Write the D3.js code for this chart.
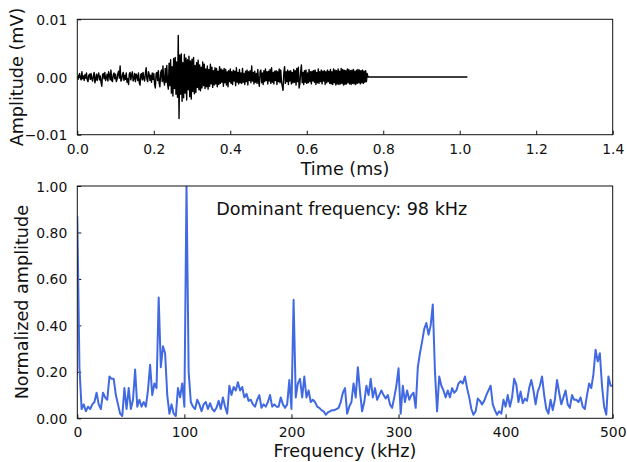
<!DOCTYPE html>
<html>
<head>
<meta charset="utf-8">
<script src="https://cdn.jsdelivr.net/npm/d3@7"></script>
<style>
  html, body { margin: 0; padding: 0; background: #fff; }
  svg { display: block; }
  text { font-family: "DejaVu Sans", sans-serif; fill: #111; }
</style>
</head>
<body>
<svg id="chart" width="627" height="462"></svg>
<script>
// ---------------- DATA ----------------
// Top panel: time-domain signal (mV), sampled every signalDt ms from signalT0
const signalT0 = 0;
const signalDt = 0.002;
const signalValues = [
  0.0001,-0.0004,0.0003,0.0006,-0.0002,-0.0005,0.0009,-0.0003,0.0002,-0.0006,
  0.0004,-0.0002,0.0007,-0.0005,-0.0008,0.0003,0.0005,-0.0004,0.0006,-0.0003,
  -0.0007,0.0002,0.0008,-0.0010,-0.0004,0.0005,-0.0006,0.0003,0.0007,-0.0005,
  0.0002,-0.0009,-0.0016,0.0004,0.0006,-0.0003,0.0008,-0.0006,-0.0002,0.0005,
  -0.0007,0.0009,0.0003,-0.0005,0.0012,-0.0006,-0.0008,0.0004,0.0007,-0.0003,
  0.0005,-0.0008,-0.0004,0.0006,0.0010,-0.0002,0.0019,-0.0007,-0.0005,0.0004,
  0.0008,-0.0006,0.0003,-0.0004,0.0007,-0.0009,-0.0003,-0.0013,0.0005,0.0008,
  -0.0005,0.0004,0.0009,-0.0007,-0.0003,0.0006,-0.0008,0.0005,0.0002,-0.0006,
  0.0007,-0.0010,-0.0014,0.0004,0.0006,-0.0005,0.0008,-0.0003,-0.0007,0.0006,
  0.0016,-0.0004,-0.0008,0.0009,0.0005,-0.0006,0.0003,-0.0009,0.0007,-0.0004,
  0.0006,-0.0012,-0.0019,0.0005,0.0008,-0.0006,0.0011,-0.0010,-0.0017,0.0007,
  0.0012,-0.0008,0.0019,-0.0006,-0.0014,0.0015,-0.0009,0.0020,-0.0012,-0.0021,
  0.0024,-0.0015,0.0030,-0.0028,0.0018,-0.0033,0.0032,-0.0020,0.0034,-0.0030,
  0.0026,-0.0035,0.0072,-0.0072,0.0038,-0.0030,0.0040,-0.0042,0.0025,-0.0036,
  0.0039,-0.0028,0.0033,-0.0040,0.0030,-0.0022,0.0036,-0.0034,0.0028,-0.0038,
  0.0031,-0.0025,0.0034,-0.0029,0.0020,-0.0027,0.0025,-0.0018,0.0029,-0.0022,
  0.0021,-0.0024,0.0017,-0.0019,0.0026,-0.0015,0.0022,-0.0020,0.0014,-0.0017,
  0.0019,-0.0021,0.0013,-0.0016,0.0022,-0.0012,0.0017,-0.0018,0.0011,-0.0014,
  0.0016,-0.0012,0.0015,-0.0017,0.0010,-0.0013,0.0018,-0.0011,0.0014,-0.0009,
  0.0012,-0.0016,0.0015,-0.0010,0.0013,-0.0014,0.0009,-0.0017,0.0011,-0.0008,
  0.0014,-0.0011,0.0009,-0.0013,0.0012,-0.0007,0.0010,-0.0015,0.0016,-0.0009,
  0.0008,-0.0012,0.0013,-0.0010,0.0007,-0.0011,0.0015,-0.0009,0.0006,-0.0013,
  0.0010,-0.0008,0.0012,-0.0014,0.0009,-0.0006,0.0011,-0.0010,0.0019,-0.0007,
  0.0008,-0.0012,0.0010,-0.0009,0.0006,-0.0011,0.0013,-0.0008,-0.0016,0.0009,
  0.0012,-0.0010,0.0007,-0.0013,0.0011,-0.0008,0.0014,-0.0006,0.0009,-0.0012,
  0.0010,-0.0007,0.0013,-0.0011,0.0016,-0.0009,0.0008,-0.0012,0.0010,-0.0006,
  0.0011,-0.0013,0.0009,-0.0008,0.0014,-0.0010,0.0012,-0.0009,-0.0016,-0.0023,
  0.0007,0.0018,-0.0011,0.0009,-0.0008,0.0012,-0.0013,0.0010,-0.0007,0.0011,
  -0.0012,0.0008,-0.0010,0.0013,-0.0009,0.0011,-0.0014,0.0015,-0.0008,0.0017,
  -0.0019,-0.0012,0.0009,0.0021,-0.0010,0.0008,-0.0013,0.0011,-0.0009,0.0012,
  -0.0011,0.0007,-0.0010,0.0013,-0.0008,0.0009,-0.0012,0.0010,-0.0007,0.0011,
  -0.0009,0.0012,-0.0013,0.0008,-0.0010,0.0014,-0.0011,0.0009,-0.0008,0.0012,
  -0.0012,0.0010,-0.0007,0.0011,-0.0013,0.0009,-0.0010,0.0012,-0.0008,0.0010,
  -0.0011,0.0013,-0.0012,0.0009,-0.0013,0.0014,-0.0010,0.0012,-0.0014,0.0011,
  -0.0012,0.0014,-0.0013,0.0010,-0.0012,0.0015,-0.0011,0.0013,-0.0014,0.0012,
  -0.0013,0.0011,-0.0012,0.0014,-0.0010,0.0013,-0.0012,0.0011,-0.0013,0.0012,
  -0.0011,0.0013,-0.0012,0.0010,-0.0013,0.0012,-0.0011,0.0013,-0.0010,0.0012,
  -0.0012,0.0011,-0.0010,0.0012,-0.0011,0.0010,-0.0009,0.0011,-0.0008,0.0006,
  0.0000
];
// zero-padded tail of the recorded window
const tailTimes = [0.76, 1.02];
const tailValues = [0, 0];

const timeTicks = [0.0, 0.2, 0.4, 0.6, 0.8, 1.0, 1.2, 1.4];
const ampTicks = [-0.01, 0.00, 0.01];

// Bottom panel: normalized FFT amplitude, one value every freqStep kHz from 0
const freqStep = 2;
const spectrumValues = [
  0.87,0.22,0.04,0.06,0.03,0.05,0.04,0.06,0.07,0.11,
  0.06,0.04,0.11,0.09,0.08,0.18,0.17,0.17,0.10,0.06,
  0.02,0.01,0.13,0.04,0.13,0.04,0.08,0.21,0.05,0.08,
  0.05,0.07,0.05,0.12,0.23,0.10,0.15,0.13,0.52,0.22,
  0.31,0.28,0.10,0.02,0.06,0.02,0.01,0.13,0.09,0.15,
  0.05,1.00,0.20,0.07,0.05,0.04,0.08,0.06,0.03,0.06,
  0.07,0.04,0.065,0.04,
  0.03,0.045,0.075,0.04,0.09,0.05,0.02,0.14,0.10,0.135,
  0.12,0.155,0.12,0.135,0.09,0.105,0.075,0.08,0.06,0.05,
  0.08,0.10,0.045,0.06,0.05,0.07,0.10,0.05,0.06,0.05,
  0.05,0.09,0.06,0.045,0.06,0.165,0.04,0.51,0.09,0.15,
  0.17,0.09,0.18,0.09,0.12,0.07,0.08,0.07,0.05,0.045,
  0.035,0.03,0.015,0.025,0.03,0.035,0.035,0.04,0.045,0.07,
  0.11,0.13,
  0.02,0.05,0.07,0.15,0.09,0.22,0.115,0.03,0.07,0.14,
  0.10,0.17,0.09,0.13,0.08,0.10,0.12,0.10,0.085,0.10,
  0.06,0.045,0.09,0.14,0.215,0.02,0.14,0.07,0.12,0.08,
  0.10,0.11,0.045,0.22,0.28,0.33,0.385,0.41,0.36,0.40,
  0.49,0.20,0.03,0.18,0.14,0.12,0.09,0.12,0.09,0.13,
  0.11,0.12,0.15,0.16,0.15,0.18,0.13,0.09,0.04,0.015,
  0.03,0.085,0.075,0.06,0.075,
  0.10,0.12,0.14,0.06,0.035,0.015,0.03,0.02,0.08,0.05,
  0.10,0.05,0.09,0.17,0.145,0.07,0.115,0.065,0.085,0.075,
  0.13,0.165,0.12,0.06,0.115,0.14,0.18,0.10,0.04,0.02,
  0.08,0.035,0.08,0.165,0.11,0.06,0.09,0.12,0.06,0.045,
  0.10,0.08,0.08,0.07,0.09,0.05,0.04,0.10,0.15,0.13,
  0.19,0.295,0.245,0.28,0.14,0.05,0.015,0.18,0.14,0.14
];
const freqTicks = [0, 100, 200, 300, 400, 500];
const normTicks = [0.00, 0.20, 0.40, 0.60, 0.80, 1.00];
const dominantLabel = "Dominant frequency: 98 kHz";

// ---------------- LAYOUT ----------------
const svg = d3.select("#chart");
const tickFont = 13.9, labelFont = 17.6;
const spineColor = "#111";

const topBox = {x0: 77.3, x1: 612.7, y0: 19.3, y1: 134.7};
const botBox = {x0: 77.3, x1: 612.7, y0: 186, y1: 418.3};

function drawAxes(box, xScale, yScale, xTicks, yTicks, xFmt, yFmt, xLabel, yLabel, xLabelY, yLabelX, clipId) {
  const g = svg.append("g");
  svg.append("clipPath").attr("id", clipId).append("rect")
    .attr("x", box.x0).attr("y", box.y0)
    .attr("width", box.x1 - box.x0).attr("height", box.y1 - box.y0);

  const xAxis = d3.axisBottom(xScale).tickValues(xTicks).tickFormat(xFmt)
    .tickSizeInner(-4).tickSizeOuter(0).tickPadding(9);
  const yAxis = d3.axisLeft(yScale).tickValues(yTicks).tickFormat(yFmt)
    .tickSizeInner(-4).tickSizeOuter(0).tickPadding(10);

  const gx = g.append("g").attr("transform", `translate(0,${box.y1})`).call(xAxis);
  const gy = g.append("g").attr("transform", `translate(${box.x0},0)`).call(yAxis);
  [gx, gy].forEach(a => {
    a.select(".domain").remove();
    a.selectAll(".tick line").attr("stroke", spineColor).attr("stroke-width", 1);
    a.selectAll(".tick text").style("font-size", tickFont + "px")
      .style("font-family", "DejaVu Sans, sans-serif").attr("fill", "#111");
  });
  gy.selectAll(".tick text").attr("dy", "0.36em");

  g.append("text").attr("x", (box.x0 + box.x1) / 2).attr("y", xLabelY)
    .attr("text-anchor", "middle").style("font-size", labelFont + "px").text(xLabel);
  g.append("text")
    .attr("transform", `translate(${yLabelX},${(box.y0 + box.y1) / 2}) rotate(-90)`)
    .attr("text-anchor", "middle").style("font-size", labelFont + "px").text(yLabel);
  return g;
}

function drawFrame(box) {
  svg.append("rect").attr("x", box.x0).attr("y", box.y0)
    .attr("width", box.x1 - box.x0).attr("height", box.y1 - box.y0)
    .attr("fill", "none").attr("stroke", spineColor).attr("stroke-width", 1);
}

// ---------------- TOP PANEL ----------------
const xT = d3.scaleLinear().domain([0, 1.4]).range([topBox.x0, topBox.x1]);
const yT = d3.scaleLinear().domain([-0.01, 0.01]).range([topBox.y1, topBox.y0]);
drawAxes(topBox, xT, yT, timeTicks, ampTicks, d3.format(".1f"), d3.format(".2f"),
  "Time (ms)", "Amplitude (mV)", 175, 23, "clipTop");

const signalPts = signalValues.map((v, i) => [signalT0 + i * signalDt, v])
  .concat(tailTimes.map((t, i) => [t, tailValues[i]]));
svg.append("path").datum(signalPts)
  .attr("clip-path", "url(#clipTop)")
  .attr("fill", "none").attr("stroke", "#000").attr("stroke-width", 1.4)
  .attr("stroke-linejoin", "round")
  .attr("d", d3.line().x(d => xT(d[0])).y(d => yT(d[1])));
drawFrame(topBox);

// ---------------- BOTTOM PANEL ----------------
const xB = d3.scaleLinear().domain([0, 500]).range([botBox.x0, botBox.x1]);
const yB = d3.scaleLinear().domain([0, 1]).range([botBox.y1, botBox.y0]);
drawAxes(botBox, xB, yB, freqTicks, normTicks, d3.format("d"), d3.format(".2f"),
  "Frequency (kHz)", "Normalized amplitude", 457, 28, "clipBot");

svg.append("path").datum(spectrumValues)
  .attr("clip-path", "url(#clipBot)")
  .attr("fill", "none").attr("stroke", "#4169E1").attr("stroke-width", 2)
  .attr("stroke-linejoin", "round")
  .attr("d", d3.line().x((d, i) => xB(i * freqStep)).y(d => yB(d)));
drawFrame(botBox);

svg.append("text").attr("x", xB(247)).attr("y", 215)
  .attr("text-anchor", "middle").style("font-size", labelFont + "px").text(dominantLabel);
</script>
</body>
</html>
